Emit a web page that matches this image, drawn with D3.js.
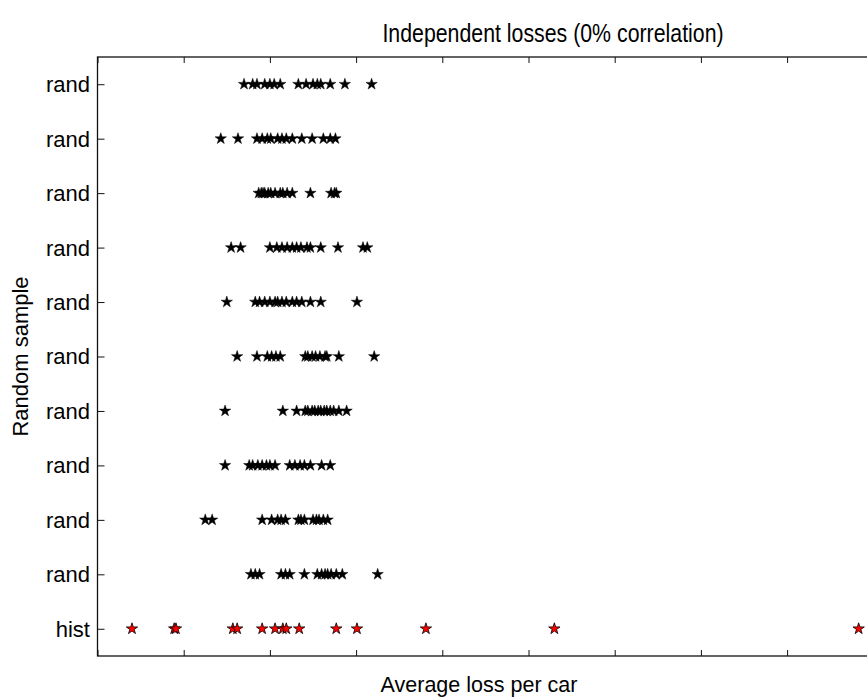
<!DOCTYPE html>
<html>
<head>
<meta charset="utf-8">
<script src="https://cdnjs.cloudflare.com/ajax/libs/d3/7.8.5/d3.min.js"></script>
<style>
  body { margin: 0; background: #fff; }
  svg { font-family: "Liberation Sans", Arial, sans-serif; }
</style>
</head>
<body>
<script>
// row labels, bottom to top
var rowLabels = ["hist", "rand", "rand", "rand", "rand", "rand", "rand", "rand", "rand", "rand", "rand"];

// historical average losses (red stars)
var histLoss = [0.40, 0.89, 0.91, 1.57, 1.62, 1.91, 2.06, 2.15, 2.19, 2.34, 2.77, 3.01, 3.81, 5.30, 8.83];

// random samples, rand1 is just above hist, rand10 at the top
var rand1  = [1.78, 1.83, 1.88, 2.13, 2.18, 2.23, 2.40, 2.55, 2.60, 2.64, 2.67, 2.71, 2.77, 2.84, 3.25];
var rand2  = [1.25, 1.33, 1.91, 2.02, 2.09, 2.13, 2.18, 2.33, 2.36, 2.40, 2.50, 2.54, 2.57, 2.62, 2.67];
var rand3  = [1.48, 1.76, 1.80, 1.86, 1.91, 1.96, 2.00, 2.06, 2.23, 2.29, 2.35, 2.40, 2.47, 2.60, 2.70];
var rand4  = [1.48, 2.15, 2.31, 2.41, 2.44, 2.49, 2.52, 2.56, 2.59, 2.63, 2.66, 2.70, 2.74, 2.80, 2.89];
var rand5  = [1.62, 1.85, 1.97, 2.02, 2.07, 2.12, 2.41, 2.44, 2.49, 2.53, 2.58, 2.64, 2.66, 2.80, 3.21];
var rand6  = [1.50, 1.83, 1.88, 1.94, 2.00, 2.06, 2.09, 2.14, 2.19, 2.26, 2.31, 2.37, 2.47, 2.59, 3.01];
var rand7  = [1.55, 1.66, 2.00, 2.08, 2.14, 2.20, 2.26, 2.31, 2.36, 2.43, 2.47, 2.59, 2.79, 3.08, 3.13];
var rand8  = [1.87, 1.90, 1.92, 1.94, 1.98, 2.01, 2.06, 2.12, 2.15, 2.20, 2.26, 2.47, 2.71, 2.75, 2.77];
var rand9  = [1.43, 1.63, 1.85, 1.91, 1.97, 2.01, 2.09, 2.14, 2.19, 2.26, 2.37, 2.49, 2.62, 2.70, 2.76];
var rand10 = [1.70, 1.80, 1.85, 1.94, 2.00, 2.05, 2.12, 2.33, 2.42, 2.50, 2.55, 2.59, 2.70, 2.87, 3.18];

var randRows = [rand1, rand2, rand3, rand4, rand5, rand6, rand7, rand8, rand9, rand10];

var xTicks = [0, 1, 2, 3, 4, 5, 6, 7, 8, 9];

var width = 867, height = 698;
var margin = {top: 57, left: 97.5, bottom: 42};
var plotRight = 873.3;

var svg = d3.select("body").append("svg")
    .attr("width", width)
    .attr("height", height);

var x = d3.scaleLinear().domain([0, 9]).range([margin.left, plotRight]);
var y = d3.scaleLinear().domain([-0.5, 10.5]).range([height - margin.bottom, margin.top]);

// frame
svg.append("rect")
    .attr("x", margin.left)
    .attr("y", margin.top)
    .attr("width", plotRight - margin.left)
    .attr("height", y(-0.5) - y(10.5))
    .attr("fill", "none")
    .attr("stroke", "#111")
    .attr("stroke-width", 1.3);

// bottom ticks (inward, no labels)
svg.append("g")
    .attr("transform", "translate(0," + y(-0.5) + ")")
    .call(d3.axisTop(x).tickValues(xTicks).tickSize(6).tickFormat(""))
    .call(function(g) { g.select(".domain").remove(); });

// top ticks
svg.append("g")
    .attr("transform", "translate(0," + y(10.5) + ")")
    .call(d3.axisBottom(x).tickValues(xTicks).tickSize(6).tickFormat(""))
    .call(function(g) { g.select(".domain").remove(); });

// y ticks + labels
var yAx = svg.append("g")
    .attr("transform", "translate(" + margin.left + ",0)")
    .call(d3.axisRight(y).tickValues(d3.range(11)).tickSize(7).tickFormat(""));
yAx.select(".domain").remove();

svg.append("g").selectAll("text")
    .data(rowLabels)
    .enter().append("text")
    .attr("x", 90)
    .attr("y", function(d, i) { return y(i); })
    .attr("dy", "0.36em")
    .attr("text-anchor", "end")
    .style("font-size", "22px")
    .text(function(d) { return d; });

svg.selectAll(".tick line").attr("stroke", "#111").attr("stroke-width", 1);

var star = d3.symbol().type(d3.symbolStar).size(40);

// random sample stars
randRows.forEach(function(row, r) {
  svg.append("g").selectAll("path")
      .data(row)
      .enter().append("path")
      .attr("d", star)
      .attr("transform", function(d) { return "translate(" + x(d) + "," + y(r + 1) + ")"; })
      .attr("fill", "#000")
      .attr("stroke", "#000")
      .attr("stroke-width", 0.5);
});

// historical stars
svg.append("g").selectAll("path")
    .data(histLoss)
    .enter().append("path")
    .attr("d", star)
    .attr("transform", function(d) { return "translate(" + x(d) + "," + y(0) + ")"; })
    .attr("fill", "#ff0000")
    .attr("stroke", "#000")
    .attr("stroke-width", 0.8);

// title (looks horizontally condensed in the original)
svg.append("text")
    .attr("transform", "translate(553,42) scale(0.82,1)")
    .attr("text-anchor", "middle")
    .style("font-size", "26px")
    .text("Independent losses (0% correlation)");

// x label
svg.append("text")
    .attr("x", 479)
    .attr("y", 692)
    .attr("text-anchor", "middle")
    .style("font-size", "21.5px")
    .text("Average loss per car");

// y label
svg.append("text")
    .attr("transform", "translate(28," + y(5) + ") rotate(-90)")
    .attr("text-anchor", "middle")
    .style("font-size", "22px")
    .text("Random sample");
</script>
</body>
</html>
